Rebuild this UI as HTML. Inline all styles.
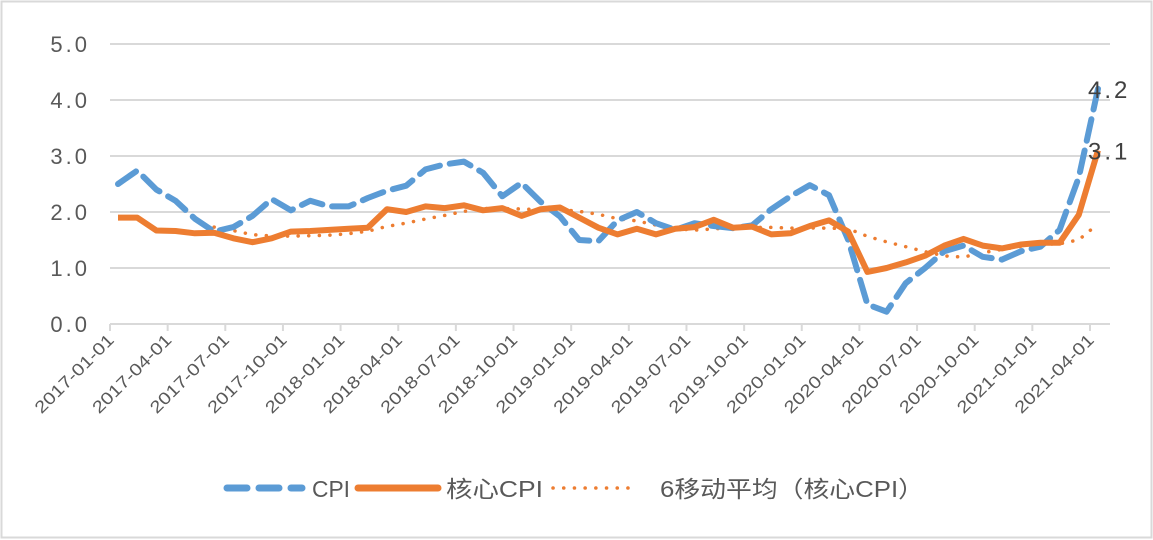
<!DOCTYPE html>
<html><head><meta charset="utf-8"><style>
body{margin:0;background:#fff;}
svg{display:block;font-family:"Liberation Sans","Noto Sans CJK SC",sans-serif;}
</style></head><body>
<svg width="1153" height="540" viewBox="0 0 1153 540">
<rect x="1.5" y="1.5" width="1150" height="536" fill="#fff" stroke="#d9d9d9" stroke-width="2"/>
<g id="grid"></g><g id="xaxis"></g><g id="yaxis"></g><g id="series"></g>
<g>
 <g>
  <line x1="227" y1="488" x2="302" y2="488" stroke="#5b9bd5" stroke-width="7" stroke-dasharray="20,12" stroke-linecap="round"/>
  <text x="312" y="497" font-size="23" fill="#595959" textLength="38" lengthAdjust="spacingAndGlyphs">CPI</text></g>
 <g>
  <line x1="358" y1="488" x2="438" y2="488" stroke="#ed7d31" stroke-width="7" stroke-linecap="round"/>
  <text x="446" y="497" font-size="23" fill="#595959" textLength="97" lengthAdjust="spacingAndGlyphs">核心CPI</text></g>
 <g>
  <line x1="553" y1="488" x2="638" y2="488" stroke="#ed7d31" stroke-width="3.5" stroke-dasharray="0.1,10.6" stroke-linecap="round"/>
  <text x="660" y="497" font-size="23" fill="#595959" textLength="264" lengthAdjust="spacingAndGlyphs">6移动平均（核心CPI）</text></g>
</g>
</svg>
<script>
const labels=["2017-01-01","2017-04-01","2017-07-01","2017-10-01","2018-01-01","2018-04-01","2018-07-01","2018-10-01","2019-01-01","2019-04-01","2019-07-01","2019-10-01","2020-01-01","2020-04-01","2020-07-01","2020-10-01","2021-01-01","2021-04-01"];
const yTicks=[0,1,2,3,4,5];
const cpi=[2.5,2.74,2.4,2.2,1.88,1.65,1.73,1.93,2.23,2.03,2.2,2.1,
2.1,2.25,2.38,2.47,2.76,2.85,2.9,2.7,2.28,2.52,2.18,1.92,
1.5,1.48,1.85,2.0,1.8,1.68,1.8,1.75,1.71,1.76,2.05,2.28,
2.48,2.3,1.5,0.35,0.22,0.73,1.0,1.3,1.4,1.2,1.15,1.3,
1.38,1.68,2.62,4.2];
const core=[1.9,1.9,1.67,1.66,1.62,1.63,1.53,1.46,1.53,1.65,1.66,1.68,
1.7,1.72,2.05,2.0,2.1,2.07,2.12,2.03,2.07,1.93,2.05,2.08,
1.9,1.72,1.6,1.7,1.6,1.7,1.73,1.86,1.72,1.74,1.6,1.62,
1.75,1.85,1.65,0.93,1.0,1.1,1.22,1.4,1.52,1.4,1.35,1.42,
1.45,1.45,1.95,3.1];
const maPeriod=6;
const NS="http://www.w3.org/2000/svg";
const X0=110,X1=1090,Y0=324,PER=56;
const step=(X1-X0)/((labels.length-1)*3);
const x=i=>X0+8+i*step;
const y=v=>Y0-v*PER;
function mk(tag,attrs,parent){const e=document.createElementNS(NS,tag);for(const k in attrs)e.setAttribute(k,attrs[k]);document.getElementById(parent).appendChild(e);return e;}
yTicks.forEach(t=>{
 const g=mk('line',{x1:X0,x2:1110,y1:y(t),y2:y(t),stroke:'#d9d9d9','stroke-width':2},'grid');
 
 
 const tx=mk('text',{x:90,y:y(t)+8,'text-anchor':'end','font-size':22,fill:'#595959','letter-spacing':'3'},'yaxis');
 tx.textContent=t.toFixed(1);
 
 
});
labels.forEach((l,i)=>{
 const tx0=X0+i*3*step;
 const tk=mk('line',{x1:tx0,x2:tx0,y1:Y0,y2:Y0+7,stroke:'#d9d9d9','stroke-width':2},'xaxis');
 
 
 const t=mk('text',{x:tx0+5,y:Y0+17,'text-anchor':'end','font-size':17,fill:'#595959',textLength:104,lengthAdjust:'spacingAndGlyphs',transform:`rotate(-45 ${tx0+5} ${Y0+17})`},'xaxis');
 t.textContent=l;
 
 
});
function path(arr,start){let d='';arr.forEach((v,i)=>{if(v==null)return;d+=(d?'L':'M')+x(i+start).toFixed(1)+','+y(v).toFixed(1);});return d;}
const ma=[];for(let i=maPeriod-1;i<core.length;i++){let s=0;for(let j=i-maPeriod+1;j<=i;j++)s+=core[j];ma.push(s/maPeriod);}
const pm=mk('path',{d:path(ma,maPeriod-1),fill:'none',stroke:'#ed7d31','stroke-width':3.5,'stroke-dasharray':'0.1,10.5','stroke-linecap':'round'},'series');


const pc=mk('path',{d:path(cpi,0),fill:'none',stroke:'#5b9bd5','stroke-width':6,'stroke-dasharray':'22,10','stroke-linecap':'round','stroke-linejoin':'round'},'series');


const pk=mk('path',{d:path(core,0),fill:'none',stroke:'#ed7d31','stroke-width':6,'stroke-linejoin':'round'},'series');


const n=cpi.length-1;
const l1=mk('text',{x:x(n)-10,y:y(cpi[n])+9,'font-size':24,fill:'#404040','letter-spacing':'3'},'series');
l1.textContent=cpi[n].toFixed(1);


const m=core.length-1;
const l2=mk('text',{x:x(m)-10,y:y(core[m])+9,'font-size':24,fill:'#404040','letter-spacing':'3'},'series');
l2.textContent=core[m].toFixed(1);


</script>
</body></html>
